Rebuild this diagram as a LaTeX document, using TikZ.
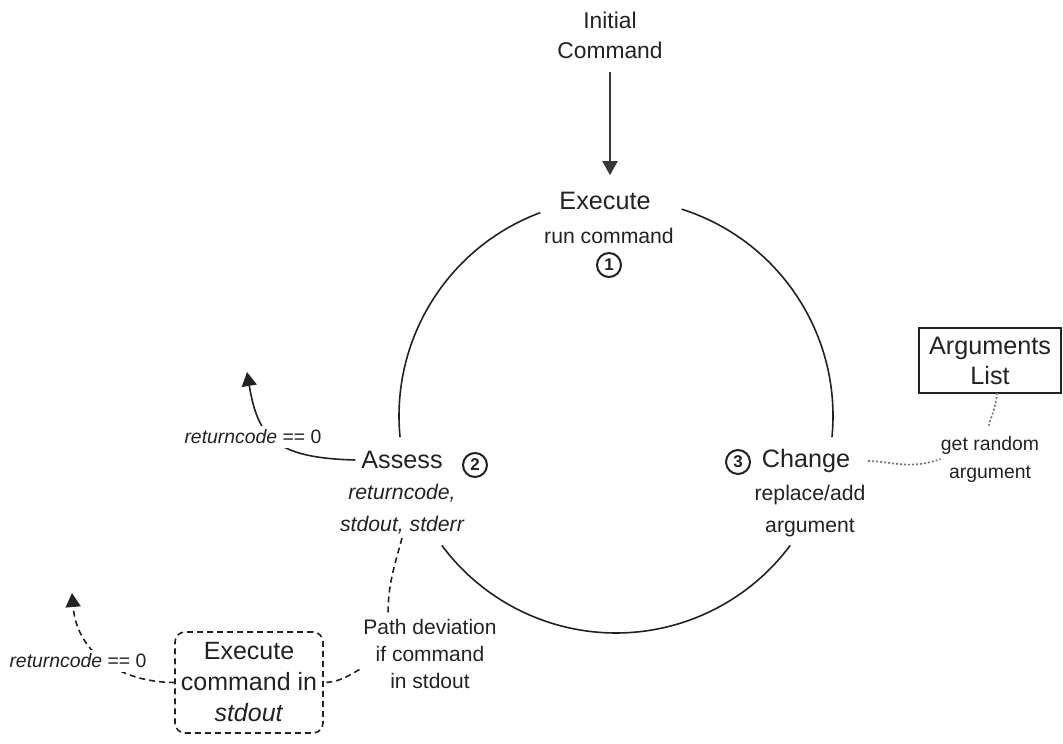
\documentclass[tikz,border=0pt]{standalone}
\usepackage{fontspec}
\setmainfont{Liberation Sans}
\usepackage{xcolor}
\usetikzlibrary{arrows.meta,positioning,calc}
\definecolor{ink}{HTML}{222222}

\begin{document}
\begin{tikzpicture}[x=0.5pt, y=0.5pt,
    mainlbl/.style={inner sep=0pt, outer sep=3pt, text=ink, align=center, font=\fontsize{12.6}{15}\selectfont},
    sublbl/.style={inner sep=0pt, outer sep=2pt, text=ink, align=center, font=\fontsize{10.6}{16}\selectfont},
    smalllbl/.style={inner sep=0pt, text=ink, align=center, font=\fontsize{9.7}{14}\selectfont},
    stepnum/.style={circle, draw=ink, line width=1pt, minimum size=12pt, inner sep=0pt, text=ink, font=\fontsize{8.5}{8.5}\selectfont\bfseries},
    loopline/.style={draw=ink, line width=0.8pt},
    deviation/.style={draw=ink, line width=0.8pt, dash pattern=on 3pt off 2pt},
    pickline/.style={draw=black!55, line width=0.8pt, dash pattern=on 1pt off 1pt},
    exitarrow/.style={-{Triangle[length=7pt, width=7.5pt]}},
]
    \useasboundingbox (0,0) rectangle (1063,743);

    % Start
    \node[sublbl, font=\fontsize{11.4}{15}\selectfont] (init) at (610,708) {Initial\\Command};

    % Stage 1
    \node[mainlbl] (exec) at (605,542) {Execute};
    \node[sublbl] (execsub) at (609,507) {run command};
    \node[stepnum] (num1) at (609,478) {1};
    \draw[draw=ink!90, line width=1pt, exitarrow, shorten <=5pt, shorten >=5.5pt] (init.south) -- (init.south |- exec.north);

    % Loop
    \coordinate (ring) at (616,327);
    \draw[loopline] (ring) ++(110.4:217) arc[start angle=110.4, end angle=185.6, radius=217];
    \draw[loopline] (ring) ++(72.4:217) arc[start angle=72.4, end angle=-5.6, radius=217];
    \draw[loopline] (ring) ++(216.6:217) arc[start angle=216.6, end angle=323.4, radius=217];

    % Stage 2
    \node[mainlbl] (assess) at (402,283) {Assess};
    \node[sublbl, font=\fontsize{10.6}{16}\selectfont\itshape] (assesssub) at (402,234) {returncode,\\stdout, stderr};
    \node[stepnum] (num2) at (475,278) {2};

    % Stage 3
    \node[mainlbl] (change) at (806,282) {Change};
    \node[sublbl] (changesub) at (810,232) {replace/add\\argument};
    \node[stepnum] (num3) at (738,281) {3};

    % Arguments
    \node[draw=ink, line width=0.8pt, minimum width=71pt, minimum height=32.5pt, mainlbl, outer sep=0pt] (args) at (990,382.5) {Arguments\\List};
    \node[smalllbl] (getarg) at (990,284) {get random\\argument};
    \draw[pickline, shorten >=5pt] ([xshift=3.5pt]args.south) to[out=-95, in=80] ([xshift=-1.5pt]getarg.north);
    \draw[pickline, shorten <=6pt] (change.east) to[out=0, in=200] (getarg.west);

    % Success exit
    \coordinate (rc1tip) at (247,371);
    \draw[loopline, exitarrow] (assess.west) .. controls +(-80,2) and +(11,-66) .. (rc1tip);
    \node[smalllbl, fill=white, inner sep=2pt] (rc1) at (253,306) {\textit{returncode} == 0};

    % Deviation
    \node[sublbl, font=\fontsize{10.5}{13.5}\selectfont] (pathdev) at (430,89.5) {Path deviation\\if command\\in stdout};
    \node[mainlbl, draw=ink, line width=0.8pt, dash pattern=on 3pt off 2pt, rounded corners=5pt, minimum width=74pt, minimum height=50.5pt, outer sep=0pt, font=\fontsize{12.5}{15.5}\selectfont] (cmdbox) at (249,60.5) {Execute\\command in\\\textit{stdout}};
    \draw[deviation] (assesssub.south) to[out=-105, in=90] ([xshift=-21pt]pathdev.north);
    \draw[deviation] ([yshift=-8pt]pathdev.west) to[out=210, in=0] (cmdbox.east);
    \coordinate (rc2tip) at (72,150);
    \draw[deviation, exitarrow] (cmdbox.west) .. controls +(-55,0) and +(5,-60) .. (rc2tip);
    \node[smalllbl, fill=white, inner sep=2pt] (rc2) at (78,82) {\textit{returncode} == 0};
\end{tikzpicture}
\end{document}
